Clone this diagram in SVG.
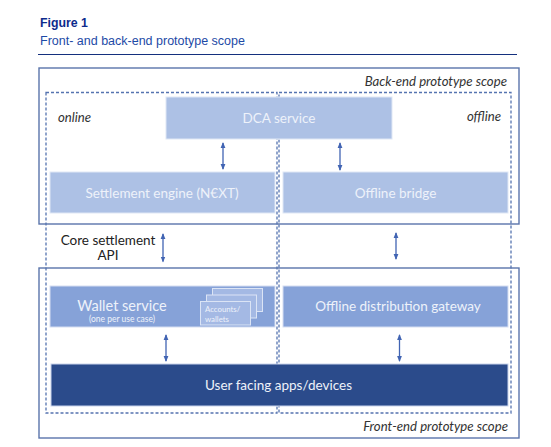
<svg xmlns="http://www.w3.org/2000/svg" width="551" height="447" viewBox="0 0 551 447">
<style>
.t{font-family:Lato,"Liberation Sans",sans-serif}
.lbl{font-family:Lato,"Liberation Sans",sans-serif;font-size:13.5px;fill:#eef2fa;text-anchor:middle}
.it{font-family:Lato,"Liberation Sans",sans-serif;font-size:13.2px;font-style:italic;fill:#333}
.scope{fill:none;stroke:#5a74ab;stroke-width:1.4}
.dash{fill:none;stroke:#5573b0;stroke-width:1.3;stroke-dasharray:3 2}
.light{fill:#adc1e5;stroke:#dfe7f5;stroke-width:1}
.mid{fill:#86a2d8;stroke:#d5def2;stroke-width:1}
.dark{fill:#2b4b8b;stroke:#c9d4ec;stroke-width:1}
.acc{fill:#a4b9e4;stroke:#dbe4f5;stroke-width:1}
.arr{stroke:#4164b3;stroke-width:1.3;fill:none;marker-start:url(#ah);marker-end:url(#ah)}
</style>
<defs>
<marker id="ah" viewBox="0 0 6 6" refX="5" refY="3" markerWidth="6" markerHeight="6" markerUnits="userSpaceOnUse" orient="auto-start-reverse">
<path d="M0,0.6 L6,3 L0,5.4 z" fill="#4164b3"/>
</marker>
</defs>
<rect width="551" height="447" fill="#ffffff"/>
<g id="header">
<text x="40" y="27" font-family="Liberation Sans,Arial,sans-serif" font-size="12.3" font-weight="bold" fill="#0d2b8c">Figure 1</text>
<text x="40" y="44.5" font-family="Liberation Sans,Arial,sans-serif" font-size="12.5" fill="#1d4aa6">Front- and back-end prototype scope</text>
<line x1="38" y1="54.5" x2="517" y2="54.5" stroke="#14307e" stroke-width="1.2"/>
</g>
<g id="back-end-scope">
<rect class="scope" x="39" y="68" width="480" height="156"/>
<text class="it" x="507" y="86" text-anchor="end">Back-end prototype scope</text>
</g>
<g id="front-end-scope">
<rect class="scope" x="39" y="268" width="480" height="170"/>
<text class="it" x="508" y="430.5" text-anchor="end">Front-end prototype scope</text>
</g>
<g id="online-zone">
<rect class="dash" x="46" y="92.5" width="231" height="320.5"/>
<text class="it" x="58" y="122">online</text>
</g>
<g id="offline-zone">
<rect class="dash" x="279" y="92.5" width="232" height="320.5"/>
<text class="it" x="501" y="120.5" text-anchor="end">offline</text>
</g>
<g id="dca-service">
<rect class="light" x="166" y="97" width="226" height="42"/>
<text class="lbl" x="279" y="123">DCA service</text>
</g>
<g id="settlement-engine">
<rect class="light" x="50" y="172" width="225" height="41"/>
<text class="lbl" x="162" y="197.5">Settlement engine (N€XT)</text>
</g>
<g id="offline-bridge">
<rect class="light" x="283" y="172" width="225" height="41"/>
<text class="lbl" x="395.5" y="197.5">Offline bridge</text>
</g>
<g id="core-settlement-api">
<text class="t" x="108" y="245" style="font-size:13.5px" fill="#222" text-anchor="middle">Core settlement</text>
<text class="t" x="108" y="260" style="font-size:13.5px" fill="#222" text-anchor="middle">API</text>
</g>
<g id="wallet-service">
<rect class="mid" x="50" y="286" width="225" height="41"/>
<text class="lbl" x="122" y="310.5" style="font-size:14.5px">Wallet service</text>
<text class="lbl" x="122" y="322" style="font-size:8.5px">(one per use case)</text>
<g id="accounts-wallets">
<rect class="acc" x="212.5" y="288.5" width="50" height="23"/>
<rect class="acc" x="206.5" y="295" width="50" height="23"/>
<rect class="acc" x="200.5" y="301.5" width="50" height="23.5"/>
<text class="t" x="205" y="311.7" style="font-size:7.8px" fill="#eef2fa">Accounts/</text>
<text class="t" x="205" y="321.7" style="font-size:7.8px" fill="#eef2fa">wallets</text>
</g>
</g>
<g id="offline-distribution-gateway">
<rect class="mid" x="283" y="286" width="225" height="41"/>
<text class="lbl" x="398" y="310.5">Offline distribution gateway</text>
</g>
<g id="user-facing-apps">
<rect class="dark" x="51" y="364" width="457" height="42"/>
<text class="lbl" x="278.5" y="390">User facing apps/devices</text>
</g>
<g id="connectors">
<line class="arr" x1="223" y1="143" x2="223" y2="169"/>
<line class="arr" x1="340" y1="143" x2="340" y2="170"/>
<line class="arr" x1="163" y1="234" x2="163" y2="261.5"/>
<line class="arr" x1="396" y1="233" x2="396" y2="259"/>
<line class="arr" x1="166" y1="335" x2="166" y2="361"/>
<line class="arr" x1="399.5" y1="335" x2="399.5" y2="361"/>
</g>
</svg>
